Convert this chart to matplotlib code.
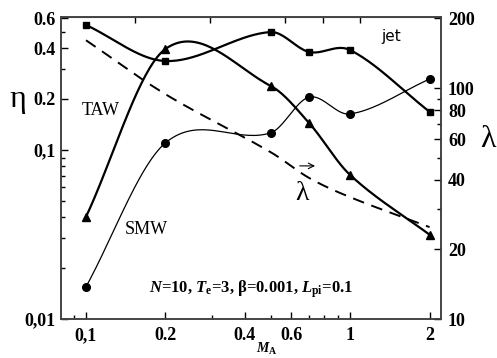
import numpy as np
import matplotlib
matplotlib.use('Agg')
import matplotlib.pyplot as plt
from matplotlib.ticker import FixedLocator, NullFormatter

plt.rcParams['font.family'] = ['Liberation Serif', 'DejaVu Serif']
plt.rcParams['mathtext.fontset'] = 'custom'
plt.rcParams['mathtext.rm'] = 'Liberation Serif:bold'
plt.rcParams['mathtext.it'] = 'Liberation Serif:bold:italic'
plt.rcParams['mathtext.bf'] = 'Liberation Serif:bold'

# Alfven Mach number M_A
ma = [0.1, 0.2, 0.5, 0.7, 1.0, 2.0]
# efficiency eta (left axis)
eta_jet = [0.547, 0.335, 0.497, 0.379, 0.389, 0.168]
eta_taw = [0.0402, 0.395, 0.239, 0.144, 0.0711, 0.0315]
eta_smw = [0.0155, 0.110, 0.126, 0.205, 0.163, 0.262]
# wavelength lambda (right axis)
lam = [161, 94, 52.8, 40.8, 33.7, 25.0]

xticks = [0.1, 0.2, 0.4, 0.6, 1, 2]
xticklabels = ['0,1', '0.2', '0.4', '0.6', '1', '2']
yticks = [0.01, 0.1, 0.2, 0.4, 0.6]
yticklabels = ['0,01', '0,1', '0.2', '0.4', '0.6']
rticks = [10, 20, 40, 60, 80, 100, 200]
rticklabels = ['10', '20', '40', '60', '80', '100', '200']


def smooth(xs, ys, n=40):
    # Catmull-Rom style Hermite curve through the points, in log-log space
    x = np.log10(xs)
    y = np.log10(ys)
    k = len(x)
    m = np.empty(k)
    m[0] = (y[1] - y[0]) / (x[1] - x[0])
    m[-1] = (y[-1] - y[-2]) / (x[-1] - x[-2])
    for i in range(1, k - 1):
        m[i] = (y[i + 1] - y[i - 1]) / (x[i + 1] - x[i - 1])
    outx, outy = [], []
    for i in range(k - 1):
        h = x[i + 1] - x[i]
        t = np.linspace(0, 1, n)
        h00 = 2 * t ** 3 - 3 * t ** 2 + 1
        h10 = t ** 3 - 2 * t ** 2 + t
        h01 = -2 * t ** 3 + 3 * t ** 2
        h11 = t ** 3 - t ** 2
        outx.append(x[i] + t * h)
        outy.append(h00 * y[i] + h10 * h * m[i] + h01 * y[i + 1] + h11 * h * m[i + 1])
    return 10 ** np.concatenate(outx), 10 ** np.concatenate(outy)


fig = plt.figure(figsize=(4.97, 3.58), dpi=100)
ax = fig.add_axes([0.1227, 0.1089, 0.7646, 0.8436])
ax2 = ax.twinx()

for s, mk, ms, lw in [(eta_jet, 's', 4, 1.6), (eta_taw, '^', 5.5, 1.6), (eta_smw, 'o', 5.5, 0.9)]:
    sx, sy = smooth(ma, s)
    ax.plot(sx, sy, color='black', lw=lw)
    ax.plot(ma, s, linestyle='none', marker=mk, ms=ms, color='black')

lx, ly = smooth(ma, lam)
ax2.plot(lx, ly, color='black', lw=1.4, linestyle=(0, (6, 4)))

ax.set_xscale('log')
ax.set_yscale('log')
ax2.set_yscale('log')
ax.set_xlim(0.0804, 2.21)
ax.set_ylim(0.01, 0.61)
ax2.set_ylim(10, 203)

ax.xaxis.set_major_locator(FixedLocator(xticks))
ax.set_xticklabels(xticklabels)
ax.xaxis.set_minor_locator(FixedLocator([0.09, 0.3, 0.5, 0.7, 0.8, 0.9]))
ax.xaxis.set_minor_formatter(NullFormatter())
ax.yaxis.set_major_locator(FixedLocator(yticks))
ax.set_yticklabels(yticklabels)
ax.yaxis.set_minor_locator(FixedLocator([0.02, 0.03, 0.04, 0.05, 0.06, 0.07, 0.08, 0.09, 0.3, 0.5]))
ax.yaxis.set_minor_formatter(NullFormatter())
ax2.yaxis.set_major_locator(FixedLocator(rticks))
ax2.set_yticklabels(rticklabels)
ax2.yaxis.set_minor_locator(FixedLocator([30, 50, 70, 90]))
ax2.yaxis.set_minor_formatter(NullFormatter())

top = ax.secondary_xaxis('top')
top.set_xticks([0.153, 0.295, 0.567, 0.79, 1.09])
top.set_xticklabels([])
top.tick_params(direction='in', length=4, width=1)
top.xaxis.set_minor_locator(FixedLocator([]))

for a in (ax, ax2):
    a.tick_params(which='major', direction='in', length=5, width=1,
                  labelsize=13)
    a.tick_params(which='minor', direction='in', length=3, width=1)
    for t in a.get_xticklabels() + a.get_yticklabels():
        t.set_fontweight('bold')
    for sp in a.spines.values():
        sp.set_color('#444444')
        sp.set_linewidth(1.2)
top.spines['top'].set_color('#444444')
ax.tick_params(axis='x', pad=6)
ax.tick_params(axis='y', pad=4)
ax2.tick_params(axis='y', pad=5)

ax.text(0.542, -0.1, r'$M_{\rm A}$', transform=ax.transAxes, fontsize=10,
        ha='center', va='center')
fig.text(18 / 497, 1 - 100 / 358, 'η', fontsize=23, ha='center', va='center')
fig.text(488 / 497, 1 - 140 / 358, 'λ', fontsize=23, ha='center', va='center')
ax.text(0.868, 0.937, 'jet', transform=ax.transAxes, fontsize=11,
        family='DejaVu Sans', ha='center', va='center')
ax.text(0.105, 0.692, 'TAW', transform=ax.transAxes, fontsize=13,
        ha='center', va='center')
ax.text(0.224, 0.295, 'SMW', transform=ax.transAxes, fontsize=13,
        ha='center', va='center')
ax.text(0.634, 0.414, 'λ', transform=ax.transAxes, fontsize=20,
        ha='center', va='center')
ax.annotate('', xy=(0.676, 0.507), xytext=(0.621, 0.507),
            xycoords='axes fraction', textcoords='axes fraction',
            arrowprops=dict(arrowstyle='->', lw=0.8, color='black'))
ax.text(0.5, 0.10, r'$N$=10, $T_{\rm e}$=3, β=0.001, $L_{\rm pi}$=0.1',
        transform=ax.transAxes, fontsize=12, fontweight='bold',
        ha='center', va='center')

fig.savefig('out.png', dpi=100)
